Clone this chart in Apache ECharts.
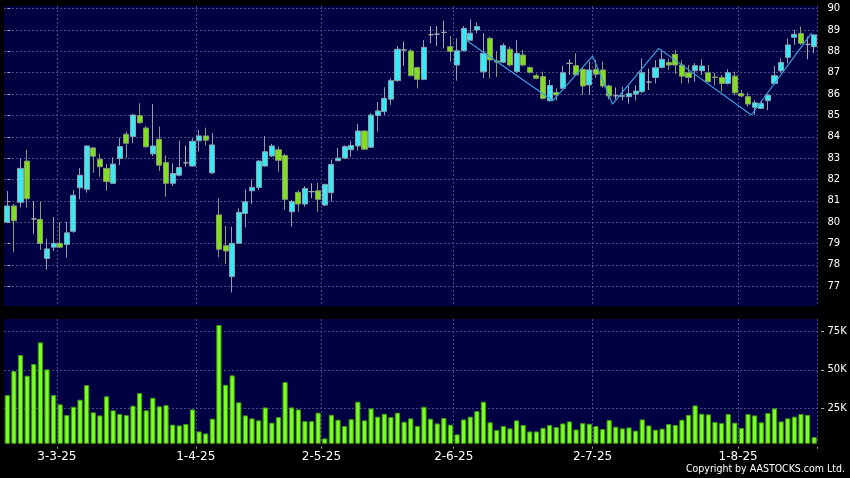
<!DOCTYPE html>
<html><head><meta charset="utf-8">
<script src="https://cdn.jsdelivr.net/npm/echarts@6/dist/echarts.min.js"></script>
<style>html,body{margin:0;padding:0;background:#000}#c{width:850px;height:478px}</style>
</head><body><div id="c"></div>
<script>
// trading days per month (2025)
const tradingDays = [
  [2, [20,21,24,25,26,27,28]],
  [3, [3,4,5,6,7,10,11,12,13,14,17,18,19,20,21,24,25,26,27,28,31]],
  [4, [1,2,3,7,8,9,10,11,14,15,16,17,22,23,24,25,28,29,30]],
  [5, [2,6,7,8,9,12,13,14,15,16,19,20,21,22,23,26,27,28,29,30]],
  [6, [2,3,4,5,6,9,10,11,12,13,16,17,18,19,20,23,24,25,26,27,30]],
  [7, [2,3,4,7,8,9,10,11,14,15,16,17,18,21,22,23,24,25,28,29,30,31]],
  [8, [1,4,5,6,7,8,11,12,13,14,15,18,19]]
];
const categories = [];
tradingDays.forEach(([m, days]) => days.forEach(d => categories.push(d + '-' + m + '-25')));

const labelDates = ['3-3-25','1-4-25','2-5-25','2-6-25','2-7-25','1-8-25'];
const priceTicks = [77,78,79,80,81,82,83,84,85,86,87,88,89,90];
const volumeTicks = [25000,50000,75000];

const opens = [80.00,80.76,80.93,82.86,80.15,80.13,78.30,78.83,79.01,78.95,
 79.57,81.61,81.54,83.48,82.95,82.52,81.82,82.98,84.12,84.01,
 84.99,84.41,83.20,83.88,82.80,81.82,82.20,82.78,82.63,83.81,
 84.04,82.31,80.34,78.90,77.45,79.01,80.41,81.47,81.63,82.63,
 83.10,83.39,83.12,80.49,81.40,80.85,81.43,81.47,80.80,81.38,
 82.88,83.00,83.39,83.57,84.27,83.51,85.00,85.18,85.76,86.63,
 88.07,88.02,87.24,86.69,88.78,88.81,88.89,88.22,87.36,88.03,
 88.52,89.00,87.05,88.61,87.55,87.49,88.10,87.05,87.83,87.24,
 86.86,86.82,85.69,86.07,86.27,87.44,87.33,87.16,86.43,87.16,
 87.13,86.38,85.92,85.90,85.88,86.00,86.11,86.56,86.78,87.25,
 87.48,87.86,87.36,87.00,87.09,87.09,87.00,86.80,86.77,86.50,
 86.84,86.03,85.88,85.38,85.33,85.69,86.50,87.09,87.72,88.66,
 88.84,88.33,88.22];
const closes = [80.76,80.07,82.52,81.10,80.15,79.00,78.75,79.01,78.83,79.50,
 81.26,82.20,83.57,83.09,82.60,81.90,82.72,83.54,83.70,85.02,
 84.66,83.53,83.57,82.67,81.82,82.28,82.56,82.78,83.79,84.04,
 83.84,83.62,78.73,78.65,79.01,80.46,80.96,81.63,82.86,83.30,
 83.57,82.90,81.07,80.96,80.85,81.58,81.43,81.07,81.77,82.70,
 83.00,83.54,83.59,84.27,83.42,85.02,85.21,85.80,86.63,88.10,
 88.07,86.86,86.69,88.19,88.78,88.81,88.89,87.99,88.03,89.08,
 88.85,89.16,87.91,87.60,87.50,88.27,87.36,87.91,87.36,87.02,
 86.74,85.80,86.40,85.96,87.00,87.44,86.90,86.38,87.13,86.93,
 86.38,85.91,85.92,85.92,86.02,86.14,87.00,86.56,87.23,87.63,
 87.36,87.36,86.84,86.78,87.33,87.31,86.58,86.78,86.50,87.00,
 86.06,85.91,85.53,85.59,85.56,85.95,86.86,87.48,88.30,88.80,
 88.38,88.33,88.77];
const lows = [79.95,78.59,80.69,80.69,79.46,78.70,77.77,78.65,78.80,78.34,
 79.50,81.07,81.38,82.31,82.13,81.47,81.80,82.67,83.00,83.70,
 84.60,83.50,83.10,82.40,81.19,81.69,82.15,82.60,82.60,83.31,
 83.59,82.25,78.36,78.05,76.71,79.00,79.76,80.85,81.50,82.60,
 83.05,82.36,80.57,79.79,80.49,80.73,81.12,80.49,80.75,80.96,
 82.85,82.95,83.07,83.35,83.38,83.48,84.24,85.02,85.49,86.58,
 87.32,86.84,86.27,86.65,88.38,88.25,88.14,87.52,86.63,88.00,
 88.50,88.85,86.74,86.74,86.80,87.45,87.30,87.00,87.30,86.95,
 86.70,85.75,85.65,85.70,86.25,86.90,86.85,85.96,85.96,86.75,
 86.30,85.75,85.75,85.70,85.55,85.70,86.05,86.19,86.50,87.20,
 87.13,86.94,86.50,86.50,86.58,86.89,86.55,86.40,86.11,86.45,
 85.95,85.85,85.41,85.02,85.30,85.25,86.45,87.00,87.44,88.30,
 88.30,87.63,87.91];
const highs = [81.46,80.85,82.99,83.39,80.99,80.96,79.22,80.24,80.01,80.01,
 81.50,82.53,83.62,83.52,83.20,82.72,83.03,83.96,84.24,85.05,
 85.57,84.50,85.54,84.48,83.14,82.75,83.82,83.59,83.93,84.32,
 84.43,84.17,81.12,79.82,79.79,80.65,81.54,82.00,82.90,84.04,
 83.67,83.54,83.20,81.04,81.50,81.69,81.82,81.85,81.80,82.94,
 83.48,83.60,83.81,84.60,84.30,85.10,85.63,86.32,86.74,88.25,
 88.46,88.10,87.29,88.53,89.19,89.19,89.44,88.72,88.61,89.19,
 89.50,89.34,88.85,88.69,88.00,88.38,88.22,88.53,88.07,87.30,
 86.95,87.05,86.66,86.27,87.32,87.63,87.91,87.25,87.52,87.60,
 87.52,86.45,86.31,86.35,86.38,86.42,87.67,87.20,87.59,88.03,
 87.67,88.06,87.59,87.36,87.45,87.63,87.36,87.00,86.90,87.16,
 87.05,86.19,86.06,85.70,85.70,86.00,87.31,87.67,88.61,89.00,
 89.16,88.69,88.81];
const volumes = [33600,49200,59600,46200,53800,67800,50300,33600,27600,20600,
 26000,30600,40100,22400,20400,32800,23700,21300,20600,26700,
 34900,23700,31900,26300,27100,14400,13900,14800,24300,10000,
 8700,18300,79100,40300,46400,28900,20400,18500,17200,25600,
 15700,19300,42100,25600,24300,16700,16700,22200,5500,20800,
 17600,13500,18000,29300,17200,25000,19600,21500,19300,22200,
 16300,18500,13500,26000,18300,15200,18700,14400,8100,17800,
 19600,23200,29300,15900,10900,13500,12000,17200,14200,10000,
 10000,12400,14200,12800,15200,16500,11300,15400,15000,13500,
 11500,17400,13100,12000,12600,10500,17800,13900,11100,11800,
 14800,14200,17600,20800,26900,21500,21100,16100,15400,21300,
 15700,12200,21300,20400,15900,22000,25000,16500,18500,19600,
 21300,20800,6300];
// zig-zag trend line: position in bar units, price
const zigzagPos = [69.5, 82.5, 88.5, 91.5, 98.5, 112.5, 121.6];
const zigzagVal = [88.50, 85.69, 87.78, 85.53, 88.14, 85.02, 88.85];

const candleData = opens.map((o, i) => [o, closes[i], lows[i], highs[i]]);
const zigzagData = zigzagPos.map((p, i) => [p, zigzagVal[i]]);
const labelIdx = new Set(labelDates.map(d => categories.indexOf(d)));

const gridLineStyle = {color: '#4a4a88', type: [2, 2], width: 1};
const splitAfterLabel = (idx) => labelIdx.has(idx - 1);
const FONT = 'DejaVu Sans';

const chart = echarts.init(document.getElementById('c'), null, {renderer: 'canvas'});
chart.setOption({
  backgroundColor: '#000000',
  animation: false,
  title: {
    text: 'Copyright by AASTOCKS.com Ltd.',
    right: 5, top: 464, padding: 0,
    textStyle: {color: '#ffffff', fontSize: 10.5, fontWeight: 'normal', fontFamily: 'DejaVu Sans Condensed'}
  },
  grid: [
    {left: 4, right: 32.5, top: 6, height: 300, show: true, backgroundColor: '#000042', borderWidth: 0},
    {left: 4, right: 32.5, top: 319, height: 124.3, show: true, backgroundColor: '#000042', borderWidth: 0}
  ],
  xAxis: [
    {type: 'category', gridIndex: 0, data: categories, boundaryGap: true,
     axisLine: {show: false}, axisTick: {show: false}, axisLabel: {show: false},
     splitLine: {show: true, interval: splitAfterLabel, lineStyle: gridLineStyle}},
    {type: 'category', gridIndex: 1, data: categories, boundaryGap: true, offset: 3.4,
     axisLine: {show: false},
     axisTick: {show: true, alignWithLabel: false, interval: splitAfterLabel, length: 2, lineStyle: {color: '#aaaaaa'}},
     axisLabel: {show: true, interval: (idx) => labelIdx.has(idx), color: '#ffffff', fontSize: 12, fontFamily: FONT, margin: 4.5, padding: [0, 0, 0, 6.6]},
     splitLine: {show: true, interval: splitAfterLabel, lineStyle: gridLineStyle}},
    {type: 'value', gridIndex: 0, min: -0.5, max: categories.length - 0.5, show: false,
     axisLine: {show: false}, axisTick: {show: false}, axisLabel: {show: false}, splitLine: {show: false}}
  ],
  yAxis: [
    {type: 'value', gridIndex: 0, position: 'right', min: 76.075, max: 90.125, offset: 3.5,
     axisLine: {show: false},
     axisTick: {show: true, customValues: priceTicks, length: 3, lineStyle: {color: '#aaaaaa'}},
     axisLabel: {show: true, customValues: priceTicks, color: '#ffffff', fontSize: 10, fontFamily: FONT, margin: 6.5, formatter: v => String(v)},
     splitLine: {show: true, lineStyle: gridLineStyle}},
    {type: 'value', gridIndex: 1, position: 'right', min: 2300, max: 83000, offset: 3.5,
     axisLine: {show: false},
     axisTick: {show: true, customValues: volumeTicks, length: 3, lineStyle: {color: '#aaaaaa'}},
     axisLabel: {show: true, customValues: volumeTicks, color: '#ffffff', fontSize: 10, fontFamily: FONT, margin: 6.5, formatter: v => (v / 1000) + 'K'},
     splitLine: {show: true, lineStyle: gridLineStyle}}
  ],
  series: [
    {type: 'candlestick', xAxisIndex: 0, yAxisIndex: 0, data: candleData, barWidth: 5.6,
     itemStyle: {color: '#38e8f4', color0: '#80e01e', borderColor: '#8aa2ac', borderColor0: '#889a72', borderColorDoji: '#aaaaaa', borderWidth: 1}},
    {type: 'line', xAxisIndex: 2, yAxisIndex: 0, data: zigzagData, symbol: 'none',
     lineStyle: {color: '#3b9ee0', width: 1.2}, z: 5},
    {type: 'bar', xAxisIndex: 1, yAxisIndex: 1, data: volumes, barWidth: 5.2,
     itemStyle: {color: '#7cff22', borderColor: '#3f9a12', borderWidth: 1}}
  ]
});
</script></body></html>
